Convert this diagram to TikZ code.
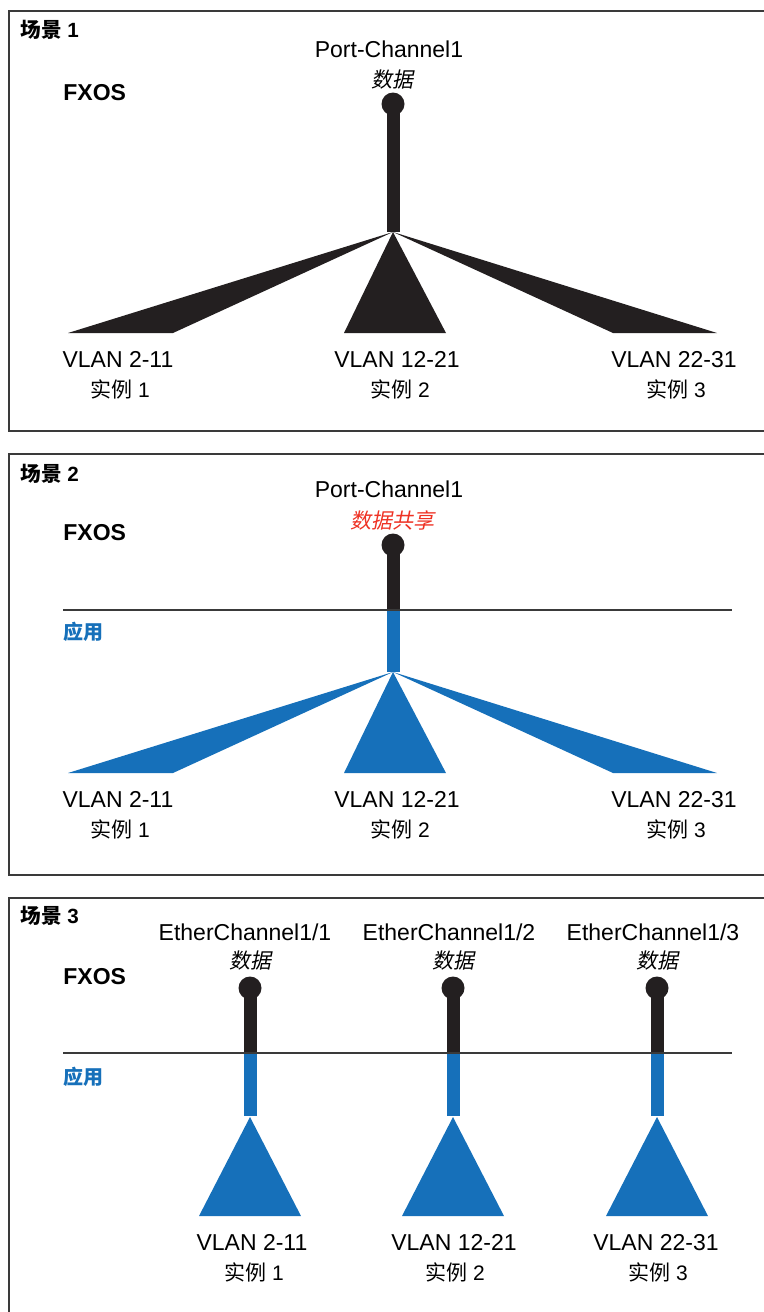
\documentclass[tikz,border=0pt]{standalone}
\usepackage{fontspec}
\setmainfont{Liberation Sans}
\newfontfamily\cjk{Noto Sans CJK SC}
\newfontfamily\cjkslant[FakeSlant=0.2]{Noto Sans CJK SC}
\usepackage{tikz}
\usetikzlibrary{positioning}
\definecolor{inkblack}{RGB}{35,31,32}
\definecolor{appblue}{RGB}{22,112,186}
\definecolor{sharered}{RGB}{238,50,36}
\definecolor{framegray}{RGB}{58,58,58}
\tikzset{
    frameline/.style={line width=1.2pt, framegray},
    layerline/.style={line width=0.9pt, framegray},
    stemblack/.style={line width=6.5pt, inkblack},
    stemblue/.style={line width=6.5pt, appblue},
    % texts
    headtext/.style={anchor=west, inner sep=0pt, font=\fontsize{10.3}{12}\selectfont\bfseries},
    fxostext/.style={anchor=west, inner sep=0pt, font=\fontsize{11.5}{13}\selectfont\bfseries},
    apptext/.style={anchor=west, inner sep=0pt, appblue, font=\fontsize{10}{12}\selectfont\cjk\bfseries},
    porttext/.style={anchor=base, inner sep=0pt, font=\fontsize{11.5}{13}\selectfont},
    datatext/.style={inner sep=0pt, font=\fontsize{10.5}{12}\selectfont\cjkslant},
    vlantext/.style={anchor=base, inner sep=0pt, font=\fontsize{11.5}{13}\selectfont},
    insttext/.style={inner sep=0pt, font=\fontsize{10.5}{12}\selectfont}
}

\begin{document}
\begin{tikzpicture}[x=0.5pt,y=-0.5pt]
    \useasboundingbox (0,0) rectangle (764,1312);
    \clip (0,0) rectangle (764,1312);

    % frames
    \draw[frameline] (780,11) -- (9,11) -- (9,431) -- (780,431);
    \draw[frameline] (780,454) -- (9,454) -- (9,875) -- (780,875);
    \draw[frameline] (780,898) -- (9,898) -- (9,1330);

    % scene 1
    \node[headtext] (head1) at (20,30) {{\cjk 场景} 1};
    \node[fxostext] (fxos1) at (63,93) {FXOS};
    \node[porttext] (pc1) at (389,57) {Port-Channel1};
    \node[datatext] (data1) at (392,80) {数据};
    \coordinate (ball1) at (393,104);
    \coordinate (apex1) at (393,232);
    \draw[stemblack] (ball1) -- (apex1);
    \fill[inkblack] (ball1) circle (11.5);
    \fill[inkblack] (apex1) -- (68,333) -- (173,333) -- cycle;
    \fill[inkblack] (apex1) -- (344,333) -- (446,333) -- cycle;
    \fill[inkblack] (apex1) -- (613,333) -- (717,333) -- cycle;
    \node[vlantext] (vlan1a) at (118,367) {VLAN 2-11};
    \node[vlantext] (vlan1b) at (397,367) {VLAN 12-21};
    \node[vlantext] (vlan1c) at (674,367) {VLAN 22-31};
    \node[insttext] (inst1a) at (120,389) {{\cjk 实例} 1};
    \node[insttext] (inst1b) at (400,389) {{\cjk 实例} 2};
    \node[insttext] (inst1c) at (676,389) {{\cjk 实例} 3};

    % scene 2
    \node[headtext] (head2) at (20,474) {{\cjk 场景} 2};
    \node[fxostext] (fxos2) at (63,533) {FXOS};
    \node[apptext] (app2) at (63,632) {应用};
    \node[porttext] (pc2) at (389,497) {Port-Channel1};
    \node[datatext, sharered] (data2) at (392,520) {数据共享};
    \coordinate (ball2) at (393,545);
    \coordinate (cross2) at (393,610);
    \coordinate (apex2) at (393,672);
    \draw[stemblack] (ball2) -- (cross2);
    \draw[stemblue] (cross2) -- (apex2);
    \fill[inkblack] (ball2) circle (11.5);
    \draw[layerline] (63,610) -- (cross2) -- (732,610);
    \fill[appblue] (apex2) -- (68,773) -- (173,773) -- cycle;
    \fill[appblue] (apex2) -- (344,773) -- (446,773) -- cycle;
    \fill[appblue] (apex2) -- (613,773) -- (717,773) -- cycle;
    \node[vlantext] (vlan2a) at (118,807) {VLAN 2-11};
    \node[vlantext] (vlan2b) at (397,807) {VLAN 12-21};
    \node[vlantext] (vlan2c) at (674,807) {VLAN 22-31};
    \node[insttext] (inst2a) at (120,829) {{\cjk 实例} 1};
    \node[insttext] (inst2b) at (400,829) {{\cjk 实例} 2};
    \node[insttext] (inst2c) at (676,829) {{\cjk 实例} 3};

    % scene 3
    \node[headtext] (head3) at (20,916) {{\cjk 场景} 3};
    \node[fxostext] (fxos3) at (63,977) {FXOS};
    \node[apptext] (app3) at (63,1077) {应用};
    \node[porttext] (ec1) at (245,940) {EtherChannel1/1};
    \node[porttext] (ec2) at (449,940) {EtherChannel1/2};
    \node[porttext] (ec3) at (653,940) {EtherChannel1/3};
    \node[datatext] (data3a) at (250,961) {数据};
    \node[datatext] (data3b) at (453,961) {数据};
    \node[datatext] (data3c) at (657,961) {数据};
    \coordinate (ball3a) at (250,988);
    \coordinate (ball3b) at (453,988);
    \coordinate (ball3c) at (657,988);
    \coordinate (cross3a) at (250,1053);
    \coordinate (cross3b) at (453,1053);
    \coordinate (cross3c) at (657,1053);
    \coordinate (foot3a) at (250,1116);
    \coordinate (foot3b) at (453,1116);
    \coordinate (foot3c) at (657,1116);
    \draw[stemblack] (ball3a) -- (cross3a);
    \draw[stemblack] (ball3b) -- (cross3b);
    \draw[stemblack] (ball3c) -- (cross3c);
    \draw[stemblue] (cross3a) -- (foot3a);
    \draw[stemblue] (cross3b) -- (foot3b);
    \draw[stemblue] (cross3c) -- (foot3c);
    \fill[inkblack] (ball3a) circle (11.5);
    \fill[inkblack] (ball3b) circle (11.5);
    \fill[inkblack] (ball3c) circle (11.5);
    \draw[layerline] (63,1053) -- (cross3a) -- (cross3b) -- (cross3c) -- (732,1053);
    \fill[appblue] (250,1117) -- (199,1216) -- (301,1216) -- cycle;
    \fill[appblue] (453,1117) -- (402,1216) -- (504,1216) -- cycle;
    \fill[appblue] (657,1117) -- (606,1216) -- (708,1216) -- cycle;
    \node[vlantext] (vlan3a) at (252,1250) {VLAN 2-11};
    \node[vlantext] (vlan3b) at (454,1250) {VLAN 12-21};
    \node[vlantext] (vlan3c) at (656,1250) {VLAN 22-31};
    \node[insttext] (inst3a) at (254,1272) {{\cjk 实例} 1};
    \node[insttext] (inst3b) at (455,1272) {{\cjk 实例} 2};
    \node[insttext] (inst3c) at (658,1272) {{\cjk 实例} 3};
\end{tikzpicture}
\end{document}
